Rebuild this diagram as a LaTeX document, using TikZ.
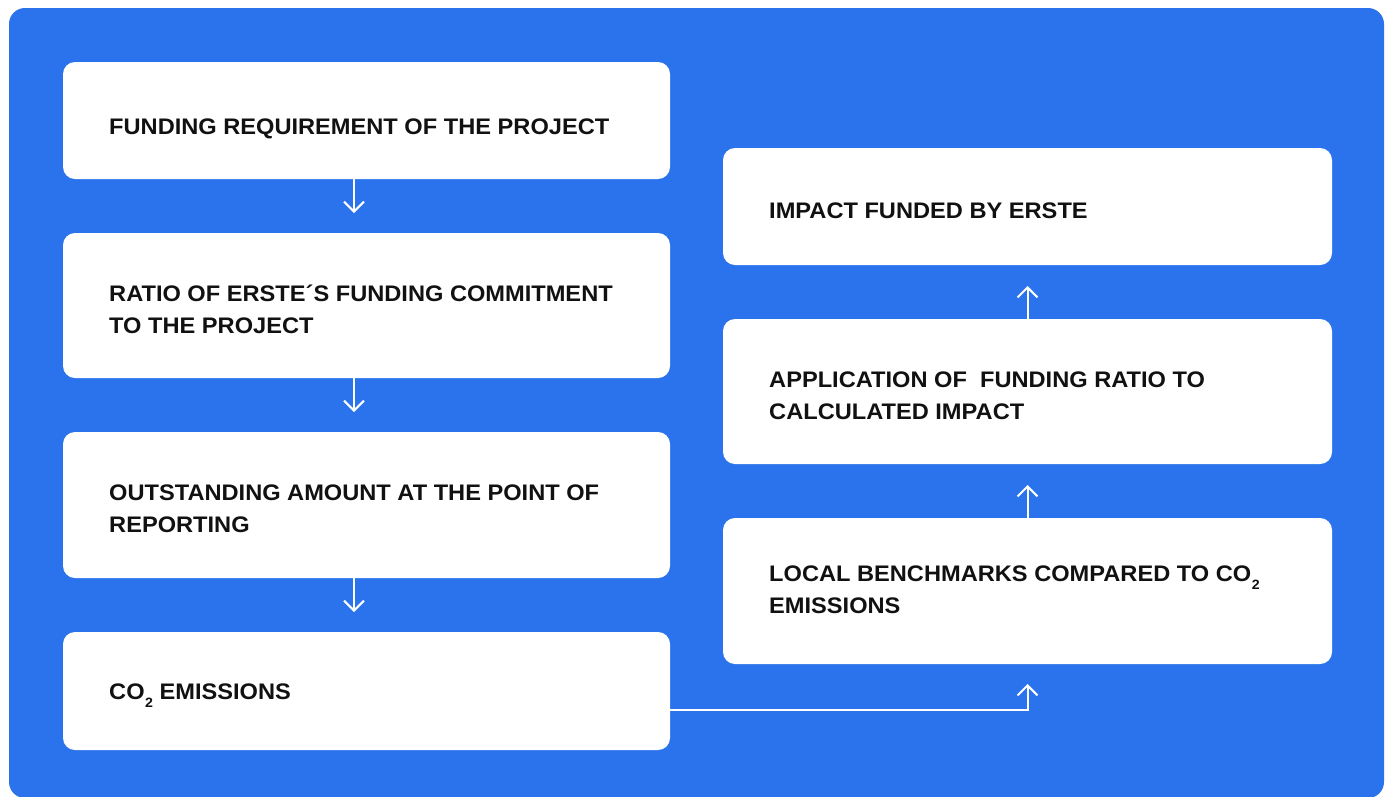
\documentclass[tikz,border=0pt]{standalone}
\usepackage{fontspec}
\setmainfont{Liberation Sans}[FakeStretch=1.05]
\usetikzlibrary{arrows.meta}
\definecolor{bgblue}{HTML}{2A73EC}
\definecolor{txt}{HTML}{111111}
\newcommand{\cosub}{CO\kern0.5pt\raisebox{-8pt}{\fontsize{13.5pt}{14pt}\selectfont 2}}
\tikzset{
  box/.style={fill=white, rounded corners=12pt, inner sep=0pt, outer sep=0pt, anchor=north west},
  lbl/.style={font=\fontsize{22.5pt}{32pt}\selectfont\bfseries, text=txt, align=left, inner sep=0pt, anchor=base west},
  arr/.style={draw=white, line width=2pt, -{Straight Barb[length=10pt,width=20pt,line width=2pt]}}
}
\begin{document}
\begin{tikzpicture}[x=1pt,y=-1pt]
\useasboundingbox (0,0) rectangle (1391,796);
\fill[white] (0,0) rectangle (1391,796);
\fill[bgblue, rounded corners=16pt] (9,8) rectangle (1384,798);
% left column
\node[box, minimum width=607pt, minimum height=117pt] (b1) at (63,62) {};
\node[box, minimum width=607pt, minimum height=145pt] (b2) at (63,233) {};
\node[box, minimum width=607pt, minimum height=146pt] (b3) at (63,432) {};
\node[box, minimum width=607pt, minimum height=118pt] (b4) at (63,632) {};
% right column
\node[box, minimum width=609pt, minimum height=117pt] (r1) at (723,148) {};
\node[box, minimum width=609pt, minimum height=145pt] (r2) at (723,319) {};
\node[box, minimum width=609pt, minimum height=146pt] (r3) at (723,518) {};
% texts (base anchor = last line baseline)
\node[lbl] (t1) at (109,134) {FUNDING REQUIREMENT OF THE PROJECT};
\node[lbl] (t2) at (109,333) {RATIO OF ERSTE´S FUNDING COMMITMENT\\TO THE PROJECT};
\node[lbl] (t3) at (109,532) {OUTSTANDING AMOUNT AT THE POINT OF\\REPORTING};
\node[lbl] (t4) at (109,699) {\cosub\ EMISSIONS};
\node[lbl] (u1) at (769,218) {IMPACT FUNDED BY ERSTE};
\node[lbl] (u2) at (769,419) {APPLICATION OF \ FUNDING RATIO TO\\CALCULATED IMPACT};
\node[lbl] (u3) at (769,613) {LOCAL BENCHMARKS COMPARED TO \cosub\\EMISSIONS};
% arrows
\draw[arr] ([xshift=-12.5pt]b1.south) -- ++(0,34);
\draw[arr] ([xshift=-12.5pt]b2.south) -- ++(0,34);
\draw[arr] ([xshift=-12.5pt]b3.south) -- ++(0,34);
\draw[arr] (r3.north) -- ++(0,-33);
\draw[arr] (r2.north) -- ++(0,-33);
\draw[arr] ([yshift=-19pt]b4.east) -| ([yshift=-20pt]r3.south);
\end{tikzpicture}
\end{document}
